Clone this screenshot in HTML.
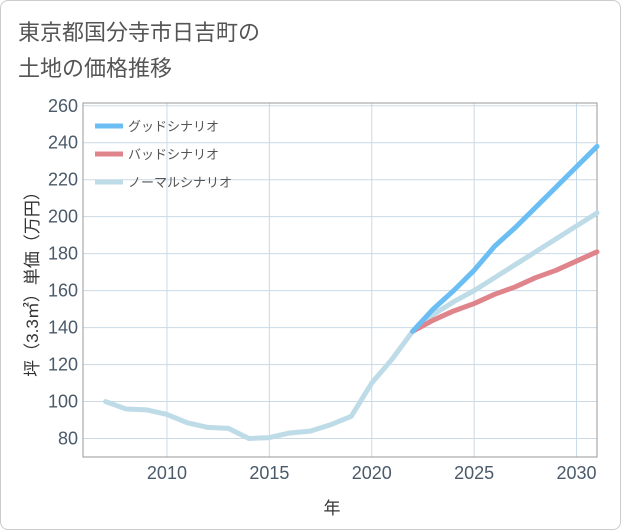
<!DOCTYPE html>
<html><head><meta charset="utf-8"><style>
body{margin:0;background:#fff;}
#card{position:absolute;left:0;top:0;width:619px;height:528px;border:1px solid #ccc;border-radius:8px;background:#fff;}
svg{position:absolute;left:0;top:0;font-family:"Liberation Sans","Noto Sans CJK JP",sans-serif;}
</style></head><body>
<div id="card"></div>
<svg id="chart" width="621" height="530">
<text x="18" y="40" font-size="22" fill="#555">東京都国分寺市日吉町の</text>
<text x="18" y="76" font-size="22" fill="#555">土地の価格推移</text>
<text x="332" y="514" font-size="17" fill="#333" text-anchor="middle">年</text>
<text transform="translate(38,280) rotate(-90)" font-size="17" fill="#333" text-anchor="middle">坪（3.3㎡）単価（万円）</text>
</svg>
<script>
const years=[2007,2008,2009,2010,2011,2012,2013,2014,2015,2016,2017,2018,2019,2020,2021,2022,2023,2024,2025,2026,2027,2028,2029,2030,2031];
const normal=[100,96,95.5,93,88.5,86,85.5,80,80.5,83,84,87.5,92,110,123,138,147,154,160,167,174,181,188,195,202];
const goodYears=[2022,2023,2024,2025,2026,2027,2028,2029,2030,2031];
const good=[138,150,160,171,184,194,205,216,227,238];
const bad=[138,144,149,153,158,162,167,171,176,181];
const xTicks=[2010,2015,2020,2025,2030];
const yTicks=[80,100,120,140,160,180,200,220,240,260];
const L=83,R=597,T=103,B=457,x0=2005.9,x1=2031,y0=70,y1=261.5;
const sx=v=>L+(v-x0)/(x1-x0)*(R-L);
const sy=v=>B-(v-y0)/(y1-y0)*(B-T);
const svg=document.getElementById('chart');
const NS='http://www.w3.org/2000/svg';
function mk(t,a){const e=document.createElementNS(NS,t);for(const k in a)e.setAttribute(k,a[k]);svg.appendChild(e);return e;}
xTicks.forEach(v=>{
 const g=mk('line',{x1:sx(v),x2:sx(v),y1:T,y2:B,stroke:'#c9d9e6','stroke-width':1});
 
 
 const t=mk('text',{x:sx(v),y:B+22,'font-size':18,fill:'#4a5a6a','text-anchor':'middle'});t.textContent=v;
 
 
});
yTicks.forEach(v=>{
 const g=mk('line',{x1:L,x2:R,y1:sy(v),y2:sy(v),stroke:'#c9d9e6','stroke-width':1});
 
 
 const t=mk('text',{x:L-5,y:sy(v)+6,'font-size':18,fill:'#4a5a6a','text-anchor':'end'});t.textContent=v;
 
 
});
const fr=mk('rect',{x:L,y:T,width:R-L,height:B-T,fill:'none',stroke:'#999','stroke-width':1});


function line(xs,ys,c,n){
 const p=mk('polyline',{points:xs.map((x,i)=>sx(x)+','+sy(ys[i])).join(' '),fill:'none',stroke:c,'stroke-width':5,'stroke-linejoin':'round','stroke-linecap':'round'});
 
 
}
line(years,normal,'#bedbe8','normal-scenario-line');
line(goodYears,bad,'#e0848c','bad-scenario-line');
line(goodYears,good,'#6bbef3','good-scenario-line');
const leg=[['グッドシナリオ','#6bbef3'],['バッドシナリオ','#e0848c'],['ノーマルシナリオ','#bedbe8']];
leg.forEach((l,i)=>{
 const y=126+i*28;
 const s=mk('line',{x1:95,x2:123,y1:y,y2:y,stroke:l[1],'stroke-width':5});
 
 
 const t=mk('text',{x:128,y:y+5,'font-size':13,fill:'#555'});t.textContent=l[0];
 
 
});
</script>
</body></html>
